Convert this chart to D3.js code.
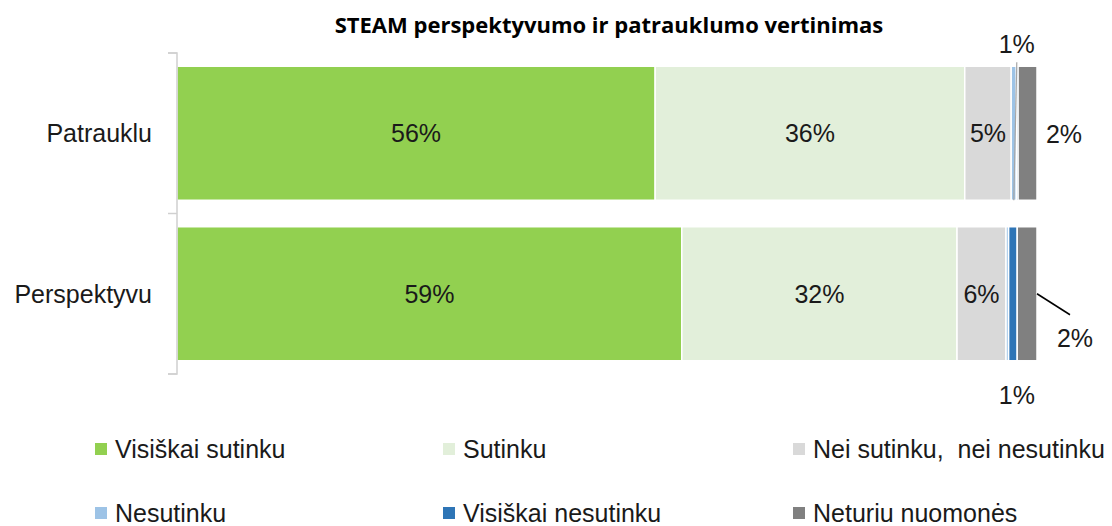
<!DOCTYPE html>
<html><head><meta charset="utf-8">
<script src="https://cdn.jsdelivr.net/npm/d3@7"></script>
<style>
html,body{margin:0;padding:0;background:#fff;}
svg{display:block;}
</style></head>
<body>
<svg id="chart" width="1112" height="526"></svg>
<script>
// ---- data ----
const title = "STEAM perspektyvumo ir patrauklumo vertinimas";
const categories = ["Patrauklu", "Perspektyvu"];
const seriesNames = ["Visiškai sutinku", "Sutinku", "Nei sutinku,  nei nesutinku", "Nesutinku", "Visiškai nesutinku", "Neturiu nuomonės"];
const patraukluValues = [55.6, 36.0, 5.4, 0.6, 0.2, 2.2];
const perspektyvuValues = [58.7, 32.0, 5.7, 0.3, 1.0, 2.3];
const seriesColors = ["#92d050", "#e2efda", "#d9d9d9", "#9dc3e6", "#2e75b6", "#808080"];

const rows = [patraukluValues, perspektyvuValues];

const svg = d3.select("#chart");
const labelFont = "'Liberation Sans', Arial, sans-serif";
const FS = 25;

// scales
const x = d3.scaleLinear().domain([0, 100]).range([177, 1037]);
const y = d3.scaleBand().domain(categories).range([53, 374]).paddingInner(0.165).paddingOuter(0.0825);

// title
svg.append("text").attr("x", 609).attr("y", 33).attr("text-anchor", "middle")
  .attr("font-family", "'Open Sans', sans-serif").attr("font-weight", "bold").attr("font-size", 22)
  .attr("fill", "#000").text(title);

// stacked data
const stacked = categories.map((c, i) => {
  let acc = 0;
  return rows[i].map((v, j) => { const d = {cat: c, row: i, s: j, v, x0: acc, x1: acc + v}; acc += v; return d; });
});

const g = svg.append("g");
stacked.forEach(rowSegs => {
  g.selectAll(null).data(rowSegs).enter().append("rect")
    .attr("x", d => x(d.x0)).attr("width", d => Math.max(0, x(d.x1) - x(d.x0)))
    .attr("y", d => y(d.cat)).attr("height", y.bandwidth())
    .attr("fill", d => seriesColors[d.s])
    .attr("stroke", "#fff").attr("stroke-width", 1.5);
});

// axis (category axis on left)
const axisG = svg.append("g").attr("transform", `translate(${x(0)},0)`);
axisG.call(d3.axisLeft(y).tickSize(0).tickFormat(""));
axisG.select(".domain").attr("stroke", "#d0d0d0").attr("stroke-width", 1.5).attr("d", `M-9,53H0V374H-9`);
const boundaries = [53, (y(categories[0]) + y.bandwidth() + y(categories[1])) / 2, 374];
axisG.selectAll("line.bt").data(boundaries).enter().append("line").attr("class", "bt")
  .attr("x1", -9).attr("x2", 0).attr("y1", d => d).attr("y2", d => d)
  .attr("stroke", "#d0d0d0").attr("stroke-width", 1.5);

// category labels
svg.selectAll("text.cat").data(categories).enter().append("text").attr("class", "cat")
  .attr("x", 152).attr("y", d => y(d) + y.bandwidth() / 2).attr("dy", "0.35em")
  .attr("text-anchor", "end").attr("font-family", labelFont).attr("font-size", FS)
  .attr("fill", "#1a1a1a").text(d => d);

// value labels
const fmt = v => Math.round(v) + "%";
const all = stacked.flat();
svg.selectAll("text.in").data(all.filter(d => d.v >= 3)).enter().append("text").attr("class", "in")
  .attr("x", d => x((d.x0 + d.x1) / 2)).attr("y", d => y(d.cat) + y.bandwidth() / 2).attr("dy", "0.35em")
  .attr("text-anchor", "middle").attr("font-family", labelFont).attr("font-size", FS)
  .attr("fill", "#1a1a1a").text(d => fmt(d.v));

// outside labels placement (layout, not data)
const place = {
  "0-3": {lx: 3, ly: -22, line: [[3, -4], [0, 1]], lineColor: "#a6a6a6", pos: "top"},
  "0-5": {lx: 27, ly: 0.5, pos: "mid"},
  "1-4": {lx: 4, ly: 34, pos: "bottom"},
  "1-5": {lx: 38, ly: 44, line: [[0, 0], [33, 21]], lineColor: "#000", pos: "mid2"},
};
all.filter(d => d.v < 3 && Math.round(d.v) >= 1).forEach(d => {
  const p = place[d.row + "-" + d.s];
  if (!p) return;
  const cx = x((d.x0 + d.x1) / 2);
  let by;
  if (p.pos === "top") by = y(d.cat);
  else if (p.pos === "bottom") by = y(d.cat) + y.bandwidth();
  else by = y(d.cat) + y.bandwidth() / 2;
  const ax = p.pos === "mid2" ? x(d.x1) : cx;
  if (p.line) {
    if (p.pos === "top") {
      svg.append("line").attr("x1", cx + p.line[0][0]).attr("y1", by + p.line[0][1])
        .attr("x2", cx + p.line[1][0]).attr("y2", y(d.cat) + y.bandwidth())
        .attr("stroke", p.lineColor).attr("stroke-width", 1.2);
    } else {
      svg.append("line").attr("x1", ax + p.line[0][0]).attr("y1", by + p.line[0][1])
        .attr("x2", ax + p.line[1][0]).attr("y2", by + p.line[1][1])
        .attr("stroke", p.lineColor).attr("stroke-width", 1.5);
    }
  }
  const tx = (p.pos === "mid" || p.pos === "mid2") ? x(d.x1) + p.lx : cx + p.lx;
  svg.append("text").attr("x", tx).attr("y", by + p.ly).attr("dy", "0.35em")
    .attr("text-anchor", "middle").attr("font-family", labelFont).attr("font-size", FS)
    .attr("fill", "#1a1a1a").text(fmt(d.v));
});

// legend
const legCols = [95, 443, 793];
const legRows = [449, 513];
const leg = svg.selectAll("g.leg").data(seriesNames).enter().append("g").attr("class", "leg")
  .attr("transform", (d, i) => `translate(${legCols[i % 3]},${legRows[Math.floor(i / 3)]})`);
leg.append("rect").attr("x", 0).attr("y", -6).attr("width", 12).attr("height", 12)
  .attr("fill", (d, i) => seriesColors[i]);
leg.append("text").attr("x", 20).attr("y", 0).attr("dy", "0.35em")
  .attr("font-family", labelFont).attr("font-size", FS).attr("fill", "#1a1a1a")
  .attr("xml:space", "preserve").style("white-space", "pre").text(d => d);
</script>
</body></html>
